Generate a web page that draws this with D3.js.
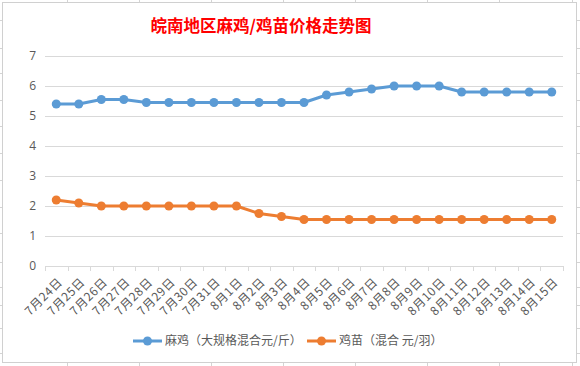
<!DOCTYPE html>
<html>
<head>
<meta charset="utf-8">
<script src="https://cdn.jsdelivr.net/npm/d3@7"></script>
<style>
  body { margin: 0; background: #fff; }
  svg text { font-family: "Noto Sans CJK SC", "Noto Sans", sans-serif; }
</style>
</head>
<body>
<div id="chart"></div>
<script>
// categories and series
var dates = ["7月24日", "7月25日", "7月26日", "7月27日", "7月28日", "7月29日", "7月30日", "7月31日",
  "8月1日", "8月2日", "8月3日", "8月4日", "8月5日", "8月6日", "8月7日", "8月8日", "8月9日",
  "8月10日", "8月11日", "8月12日", "8月13日", "8月14日", "8月15日"];
var maji = [5.4, 5.4, 5.55, 5.55, 5.45, 5.45, 5.45, 5.45, 5.45, 5.45, 5.45, 5.45,
  5.7, 5.8, 5.9, 6.0, 6.0, 6.0, 5.8, 5.8, 5.8, 5.8, 5.8];
var jimiao = [2.2, 2.1, 2.0, 2.0, 2.0, 2.0, 2.0, 2.0, 2.0, 1.75, 1.65, 1.55,
  1.55, 1.55, 1.55, 1.55, 1.55, 1.55, 1.55, 1.55, 1.55, 1.55, 1.55];
var yTicks = [0, 1, 2, 3, 4, 5, 6, 7];
var seriesNames = ["麻鸡（大规格混合元/斤）", "鸡苗（混合 元/羽）"];
var titleText = "皖南地区麻鸡/鸡苗价格走势图";

// spreadsheet cells behind the chart (decoration only)
var sheetCols = [67, 139, 211, 283, 355, 427, 499, 572];
var sheetRows = [20, 48, 73, 100, 126, 153, 180, 207, 233, 262, 287, 305, 328, 353];

var W = 580, H = 366;
var colors = ["#5b9bd5", "#ed7d31"];
var gridColor = "#d9d9d9", textColor = "#595959";

var svg = d3.select("#chart").append("svg")
    .attr("width", W).attr("height", H);

// background sheet grid
svg.selectAll("line.col").data(sheetCols).enter().append("line")
    .attr("x1", d => d + 0.5).attr("x2", d => d + 0.5)
    .attr("y1", 0).attr("y2", H)
    .style("stroke", "#d4d4d4");
svg.selectAll("line.row").data(sheetRows).enter().append("line")
    .attr("y1", d => d + 0.5).attr("y2", d => d + 0.5)
    .attr("x1", 0).attr("x2", W)
    .style("stroke", "#d4d4d4");

// chart box
svg.append("rect")
    .attr("x", 2.5).attr("y", 2.5).attr("width", 574).attr("height", 360)
    .style("fill", "#fff").style("stroke", "#d0d0d0");

// title
svg.append("text")
    .attr("x", 261).attr("y", 32)
    .attr("text-anchor", "middle")
    .style("font-size", "16.5px").style("font-weight", "bold")
    .style("fill", "#ff0000")
    .text(titleText);

var plot = {left: 45, right: 563, top: 56, bottom: 266};

var x = d3.scaleBand().domain(dates).range([plot.left, plot.right]);
var y = d3.scaleLinear().domain([0, 7]).range([plot.bottom, plot.top]);

// horizontal gridlines
var yAxis = d3.axisLeft(y).tickValues(yTicks).tickFormat(d3.format("d"))
    .tickSize(-(plot.right - plot.left)).tickPadding(9);
var gy = svg.append("g").attr("transform", "translate(" + plot.left + ",0)").call(yAxis);
gy.select(".domain").remove();
gy.selectAll(".tick line").style("stroke", gridColor);
gy.selectAll(".tick text").style("fill", textColor).style("font-size", "12px")
    .style("font-family", "'Open Sans', 'Noto Sans', sans-serif");

// x axis: line + ticks at category boundaries
var g = svg.append("g");
g.append("line")
    .attr("x1", plot.left).attr("x2", plot.right)
    .attr("y1", plot.bottom + 0.5).attr("y2", plot.bottom + 0.5)
    .style("stroke", gridColor);
var bounds = dates.map(d => x(d)).concat([x(dates[dates.length - 1]) + x.bandwidth()]);
g.selectAll("line.xt").data(bounds).enter().append("line")
    .attr("x1", d => Math.round(d) + 0.5).attr("x2", d => Math.round(d) + 0.5)
    .attr("y1", plot.bottom).attr("y2", plot.bottom + 5)
    .style("stroke", gridColor);

// rotated date labels
g.selectAll("text.xl").data(dates).enter().append("text")
    .attr("transform", d => "translate(" + (x(d) + x.bandwidth() / 2 + 1) + "," + (plot.bottom + 11) + ") rotate(-45)")
    .attr("text-anchor", "end")
    .attr("dy", "0.7em")
    .style("font-size", "12px").style("letter-spacing", "0.6px").style("fill", textColor)
    .text(d => d);

// series
var line = d3.line()
    .x((d, i) => x(dates[i]) + x.bandwidth() / 2)
    .y(d => y(d));

[maji, jimiao].forEach(function(vals, k) {
  svg.append("path").datum(vals)
      .attr("d", line)
      .style("fill", "none").style("stroke", colors[k])
      .style("stroke-width", 3).style("stroke-linejoin", "round");
  svg.selectAll("circle.s" + k).data(vals).enter().append("circle")
      .attr("cx", (d, i) => x(dates[i]) + x.bandwidth() / 2)
      .attr("cy", d => y(d))
      .attr("r", 4.5)
      .style("fill", colors[k]);
});

// legend
var legendX = [133, 307];
seriesNames.forEach(function(name, k) {
  var lg = svg.append("g").attr("transform", "translate(" + legendX[k] + ",341)");
  lg.append("line").attr("x1", 0).attr("x2", 29).attr("y1", 0).attr("y2", 0)
      .style("stroke", colors[k]).style("stroke-width", 3);
  lg.append("circle").attr("cx", 14.5).attr("cy", 0).attr("r", 4.5).style("fill", colors[k]);
  lg.append("text").attr("x", 32).attr("y", 0).attr("dy", "0.36em")
      .style("font-size", "12px").style("fill", textColor)
      .text(name);
});
</script>
</body>
</html>
